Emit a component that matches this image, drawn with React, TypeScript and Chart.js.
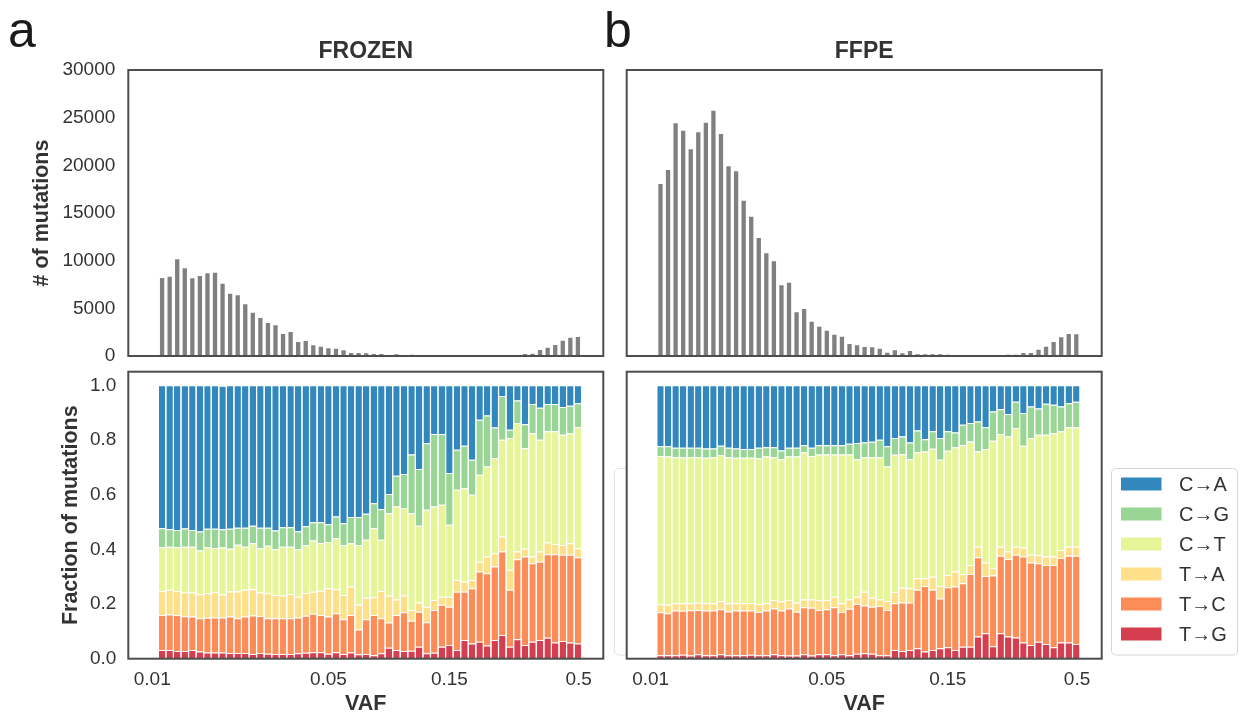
import React, { useEffect, useRef } from 'react';
import { Chart, registerables } from 'chart.js';

Chart.register(...registerables);

const FONT = "'Liberation Sans', Arial, Helvetica, sans-serif";
const W = 1243;
const H = 717;

// VAF axis tick labels and their positions (in bin-index units)
const vafTickLabels = ['0.01', '0.05', '0.15', '0.5'];
const vafTickPositions = [-1.3, 22, 38, 55.1];

// histogram counts per VAF bin
const frozenCounts = [8182, 8322, 10140, 9196, 8147, 8392, 8671, 8741, 7587, 6538, 6364, 5420, 4545, 3986, 3462, 3217, 2308, 2517, 1469, 1573, 1119, 979, 804, 769, 594, 315, 315, 280, 210, 210, 105, 175, 70, 140, 70, 70, 40, 25, 20, 30, 25, 20, 70, 20, 15, 30, 60, 70, 210, 245, 630, 874, 1154, 1608, 1923, 1993];
const ffpeCounts = [18042, 19510, 24406, 23636, 21678, 23462, 24476, 25734, 23287, 19895, 19371, 16294, 14615, 12378, 10769, 9930, 7413, 7692, 4580, 4930, 3601, 3077, 2657, 2238, 2028, 1259, 1119, 944, 909, 769, 350, 594, 280, 524, 175, 175, 175, 175, 140, 105, 105, 105, 105, 35, 105, 35, 140, 140, 315, 315, 664, 979, 1469, 1958, 2308, 2273];

const mutationTypes = ['C→A', 'C→G', 'C→T', 'T→A', 'T→C', 'T→G'];
const mutationColors = ['#3288bd', '#99d594', '#e6f598', '#fee08b', '#fc8d59', '#d53e4f'];

// FROZEN fractions
const frozenCA = [.523, .526, .529, .524, .529, .535, .525, .525, .525, .525, .521, .521, .514, .521, .521, .531, .519, .519, .534, .515, .501, .501, .508, .480, .504, .482, .482, .470, .431, .453, .397, .331, .324, .253, .306, .212, .178, .178, .321, .236, .221, .272, .126, .110, .154, .039, .162, .055, .142, .068, .082, .068, .068, .079, .075, .065];
const frozenCG = [.069, .064, .063, .066, .061, .069, .067, .070, .067, .073, .062, .069, .064, .075, .066, .069, .071, .071, .066, .070, .067, .077, .065, .079, .080, .096, .102, .095, .092, .112, .071, .112, .125, .215, .208, .243, .265, .259, .189, .146, .155, .128, .201, .187, .112, .160, .031, .083, .088, .107, .117, .100, .100, .102, .100, .088];
const frozenCT = [.160, .158, .160, .167, .168, .160, .169, .162, .172, .156, .171, .158, .168, .162, .174, .167, .179, .173, .173, .175, .187, .173, .169, .187, .183, .158, .219, .212, .252, .187, .302, .340, .320, .354, .280, .355, .342, .336, .263, .330, .342, .312, .318, .329, .348, .354, .482, .470, .368, .451, .409, .407, .412, .403, .403, .443];
const frozenTA = [.088, .090, .088, .088, .088, .088, .089, .092, .084, .092, .098, .098, .096, .086, .091, .085, .083, .089, .076, .083, .081, .089, .104, .088, .089, .104, .090, .079, .065, .100, .098, .057, .061, .039, .034, .057, .037, .030, .037, .043, .037, .030, .036, .061, .049, .055, .073, .028, .028, .025, .037, .043, .038, .036, .042, .033];
const frozenTC = [.128, .130, .132, .127, .122, .122, .127, .128, .128, .133, .127, .133, .141, .135, .130, .131, .131, .131, .131, .135, .140, .136, .136, .142, .127, .137, .091, .127, .147, .128, .092, .128, .142, .110, .128, .113, .156, .153, .140, .213, .177, .202, .257, .265, .269, .305, .208, .293, .324, .287, .287, .305, .323, .315, .321, .315];
const frozenTG = [.032, .032, .028, .028, .032, .026, .023, .023, .023, .021, .021, .021, .017, .021, .018, .017, .017, .017, .020, .022, .024, .024, .018, .024, .017, .023, .016, .017, .013, .020, .040, .032, .028, .029, .044, .020, .022, .044, .050, .032, .068, .056, .062, .048, .068, .087, .044, .071, .050, .062, .068, .077, .059, .065, .059, .056];

// FFPE fractions
const ffpeCA = [.223, .223, .228, .228, .228, .228, .231, .231, .221, .228, .231, .233, .233, .228, .226, .226, .238, .228, .228, .219, .228, .219, .219, .219, .219, .214, .211, .209, .206, .199, .223, .193, .187, .209, .165, .197, .168, .193, .168, .172, .144, .138, .132, .153, .096, .087, .105, .060, .101, .077, .085, .067, .071, .077, .065, .060];
const ffpeCG = [.035, .037, .035, .036, .034, .035, .034, .032, .034, .035, .034, .032, .032, .039, .034, .037, .032, .032, .032, .026, .030, .034, .034, .034, .034, .039, .059, .054, .057, .064, .074, .061, .065, .061, .080, .045, .064, .079, .071, .054, .075, .067, .110, .080, .107, .091, .082, .096, .120, .116, .096, .114, .104, .091, .088, .093];
const ffpeCT = [.543, .543, .534, .533, .535, .532, .532, .534, .535, .534, .532, .532, .531, .533, .537, .522, .521, .525, .535, .538, .525, .532, .532, .520, .544, .530, .503, .492, .514, .520, .492, .502, .488, .472, .461, .464, .468, .462, .455, .455, .471, .452, .348, .415, .465, .412, .421, .434, .372, .427, .440, .445, .451, .434, .437, .437];
const ffpeTA = [.029, .031, .027, .028, .026, .027, .027, .027, .029, .030, .027, .027, .028, .029, .027, .031, .033, .031, .033, .029, .031, .037, .034, .039, .032, .034, .027, .050, .033, .024, .033, .041, .054, .052, .042, .028, .048, .046, .045, .055, .034, .033, .039, .049, .028, .033, .027, .030, .033, .028, .030, .031, .031, .030, .033, .033];
const ffpeTC = [.157, .153, .163, .161, .165, .162, .163, .163, .165, .160, .163, .163, .162, .158, .163, .168, .163, .172, .160, .172, .174, .162, .165, .175, .155, .170, .182, .175, .172, .180, .165, .171, .178, .174, .214, .240, .220, .182, .219, .232, .232, .266, .290, .210, .258, .284, .284, .302, .315, .302, .287, .289, .301, .309, .318, .323];
const ffpeTG = [.013, .013, .013, .014, .012, .016, .013, .013, .016, .013, .013, .013, .014, .013, .013, .016, .013, .012, .012, .016, .012, .016, .016, .013, .016, .013, .018, .020, .018, .013, .013, .032, .028, .032, .038, .026, .032, .038, .042, .032, .044, .044, .081, .093, .046, .093, .081, .078, .059, .050, .062, .054, .042, .059, .059, .054];

// panel frames (chart areas) in page pixels
const LEFT_X = { left: 128.3, right: 603.3 };
const RIGHT_X = { left: 626.7, right: 1101.7 };
const TOP_Y = { top: 70, bottom: 356 };
const BOTTOM_Y = { top: 371.7, bottom: 658.7 };
const X_MIN = -4.47;
const X_MAX = 58.36;

const TEXT = '#333333';

const framePlugin = {
  id: 'frame',
  afterDraw(chart: any) {
    const { ctx, chartArea: a } = chart;
    ctx.save();
    ctx.strokeStyle = '#4d4d4d';
    ctx.lineWidth = 2;
    ctx.strokeRect(a.left, a.top, a.right - a.left, a.bottom - a.top);
    ctx.restore();
  },
};

function roundRect(ctx: CanvasRenderingContext2D, x: number, y: number, w: number, h: number, r: number) {
  ctx.beginPath();
  ctx.moveTo(x + r, y);
  ctx.lineTo(x + w - r, y);
  ctx.quadraticCurveTo(x + w, y, x + w, y + r);
  ctx.lineTo(x + w, y + h - r);
  ctx.quadraticCurveTo(x + w, y + h, x + w - r, y + h);
  ctx.lineTo(x + r, y + h);
  ctx.quadraticCurveTo(x, y + h, x, y + h - r);
  ctx.lineTo(x, y + r);
  ctx.quadraticCurveTo(x, y, x + r, y);
  ctx.closePath();
}

const legendPlugin = {
  id: 'sideLegend',
  afterDraw(chart: any) {
    const ctx: CanvasRenderingContext2D = chart.ctx;
    ctx.save();
    roundRect(ctx, 1111.5, 468.5, 126, 186.5, 5);
    ctx.fillStyle = '#ffffff';
    ctx.fill();
    ctx.strokeStyle = '#d4d4d4';
    ctx.lineWidth = 1;
    ctx.stroke();
    const items = [...chart.data.datasets].reverse();
    ctx.font = `20px ${FONT}`;
    ctx.textBaseline = 'middle';
    ctx.textAlign = 'left';
    items.forEach((ds: any, i: number) => {
      const cy = 484 + i * 30;
      ctx.fillStyle = ds.backgroundColor;
      ctx.fillRect(1121, cy - 6.5, 40.5, 13);
      ctx.fillStyle = TEXT;
      ctx.fillText(ds.label, 1179, cy + 1);
    });
    ctx.restore();
  },
};

const ghostLegendPlugin = {
  id: 'ghostLegend',
  afterDraw(chart: any) {
    const ctx: CanvasRenderingContext2D = chart.ctx;
    ctx.save();
    ctx.beginPath();
    ctx.rect(600, 440, 25.5, 240);
    ctx.clip();
    roundRect(ctx, 614.5, 468.5, 60, 186.5, 5);
    ctx.strokeStyle = '#e2e2e2';
    ctx.lineWidth = 1;
    ctx.stroke();
    ctx.restore();
  },
};

const toXY = (arr: number[]) => arr.map((v, i) => ({ x: i, y: v }));

function xScale(showLabels: boolean) {
  const base: any = {
    type: 'linear',
    display: showLabels,
    min: X_MIN,
    max: X_MAX,
    offset: false,
    bounds: 'data',
    stacked: true,
    grid: { display: false, drawTicks: false },
    border: { display: false },
  };
  if (!showLabels) return base;
  return {
    ...base,
    afterBuildTicks: (scale: any) => {
      scale.ticks = vafTickPositions.map((v) => ({ value: v }));
    },
    afterFit: (scale: any) => {
      scale.height = H - BOTTOM_Y.bottom;
    },
    ticks: {
      autoSkip: false,
      maxRotation: 0,
      padding: 10,
      color: TEXT,
      font: { size: 19, family: FONT },
      callback: (_v: any, i: number) => vafTickLabels[i],
    },
    title: {
      display: true,
      text: 'VAF',
      color: TEXT,
      font: { size: 21.5, weight: 'bold', family: FONT },
      padding: { top: 0, bottom: 0 },
    },
  };
}

function yScale(isLeft: boolean, extra: any) {
  const base: any = {
    display: isLeft,
    bounds: 'data',
    grid: { display: false, drawTicks: false },
    border: { display: false },
    ...extra,
  };
  if (isLeft) {
    base.afterFit = (scale: any) => {
      scale.width = LEFT_X.left;
    };
  }
  return base;
}

function histConfig(counts: number[], title: string, isLeft: boolean) {
  const xr = isLeft ? LEFT_X : RIGHT_X;
  return {
    type: 'bar',
    data: {
      datasets: [
        {
          label: title,
          data: toXY(counts),
          backgroundColor: '#808080',
          borderWidth: 0,
          barPercentage: 0.57,
          categoryPercentage: 1,
        },
      ],
    },
    options: {
      responsive: false,
      animation: false,
      devicePixelRatio: 1,
      events: [],
      layout: {
        padding: { left: isLeft ? 0 : xr.left, right: W - xr.right, top: 38.2, bottom: H - TOP_Y.bottom },
      },
      plugins: {
        legend: { display: false },
        tooltip: { enabled: false },
        title: {
          display: true,
          text: title,
          fullSize: false,
          color: TEXT,
          font: { size: 23, weight: 'bold', family: FONT },
          padding: { top: 0, bottom: 4.2 },
        },
      },
      scales: {
        x: xScale(false),
        y: yScale(isLeft, {
          min: 0,
          max: 30000,
          ticks: {
            stepSize: 5000,
            padding: 13,
            color: TEXT,
            font: { size: 19, family: FONT },
            callback: (v: any) => String(v),
          },
          title: {
            display: isLeft,
            text: '# of mutations',
            color: TEXT,
            font: { size: 21.5, weight: 'bold', family: FONT },
            padding: { top: 29, bottom: 0 },
          },
        }),
      },
    },
    plugins: [framePlugin],
  };
}

function fractionConfig(series: number[][], isLeft: boolean) {
  const xr = isLeft ? LEFT_X : RIGHT_X;
  // series given in legend order (top to bottom); stack them bottom-to-top
  const order = [5, 4, 3, 2, 1, 0];
  return {
    type: 'bar',
    data: {
      datasets: order.map((k) => ({
        label: mutationTypes[k],
        data: toXY(series[k]),
        backgroundColor: mutationColors[k],
        borderColor: '#ffffff',
        borderWidth: { top: 1, bottom: 0, left: 0, right: 0 },
        borderSkipped: false,
        barPercentage: 0.85,
        categoryPercentage: 1,
      })),
    },
    options: {
      responsive: false,
      animation: false,
      devicePixelRatio: 1,
      events: [],
      layout: {
        padding: { left: isLeft ? 0 : xr.left, right: W - xr.right, top: BOTTOM_Y.top, bottom: 0 },
      },
      plugins: {
        legend: { display: false },
        tooltip: { enabled: false },
      },
      scales: {
        x: xScale(true),
        y: yScale(isLeft, {
          stacked: true,
          min: 0,
          max: 1.05,
          ticks: {
            stepSize: 0.2,
            includeBounds: false,
            padding: 12,
            color: TEXT,
            font: { size: 19, family: FONT },
            callback: (v: any) => Number(v).toFixed(1),
          },
          title: {
            display: isLeft,
            text: 'Fraction of mutations',
            color: TEXT,
            font: { size: 21.5, weight: 'bold', family: FONT },
            padding: { top: 58, bottom: 0 },
          },
        }),
      },
    },
    plugins: isLeft ? [framePlugin, ghostLegendPlugin] : [framePlugin, legendPlugin],
  };
}

const letterStyle = (left: number): React.CSSProperties => ({
  position: 'absolute',
  left,
  top: 4.7,
  fontFamily: FONT,
  fontSize: 50,
  lineHeight: '50px',
  color: '#1a1a1a',
  margin: 0,
});

export default function App() {
  const c1 = useRef<HTMLCanvasElement>(null);
  const c2 = useRef<HTMLCanvasElement>(null);
  const c3 = useRef<HTMLCanvasElement>(null);
  const c4 = useRef<HTMLCanvasElement>(null);

  useEffect(() => {
    Chart.defaults.font.family = FONT;
    const configs: any[] = [
      histConfig(frozenCounts, 'FROZEN', true),
      histConfig(ffpeCounts, 'FFPE', false),
      fractionConfig([frozenCA, frozenCG, frozenCT, frozenTA, frozenTC, frozenTG], true),
      fractionConfig([ffpeCA, ffpeCG, ffpeCT, ffpeTA, ffpeTC, ffpeTG], false),
    ];
    const refs = [c1, c2, c3, c4];
    const charts = refs.map((r, i) => new Chart(r.current as HTMLCanvasElement, configs[i]));
    return () => charts.forEach((c) => c.destroy());
  }, []);

  const canvasStyle: React.CSSProperties = { position: 'absolute', left: 0, top: 0, width: W, height: H };

  return (
    <div style={{ position: 'absolute', left: 0, top: 0, width: W, height: H, background: '#ffffff', overflow: 'hidden' }}>
      <canvas ref={c1} width={W} height={H} style={canvasStyle} />
      <canvas ref={c2} width={W} height={H} style={canvasStyle} />
      <canvas ref={c3} width={W} height={H} style={canvasStyle} />
      <canvas ref={c4} width={W} height={H} style={canvasStyle} />
      <div style={letterStyle(8)}>a</div>
      <div style={letterStyle(604)}>b</div>
    </div>
  );
}
